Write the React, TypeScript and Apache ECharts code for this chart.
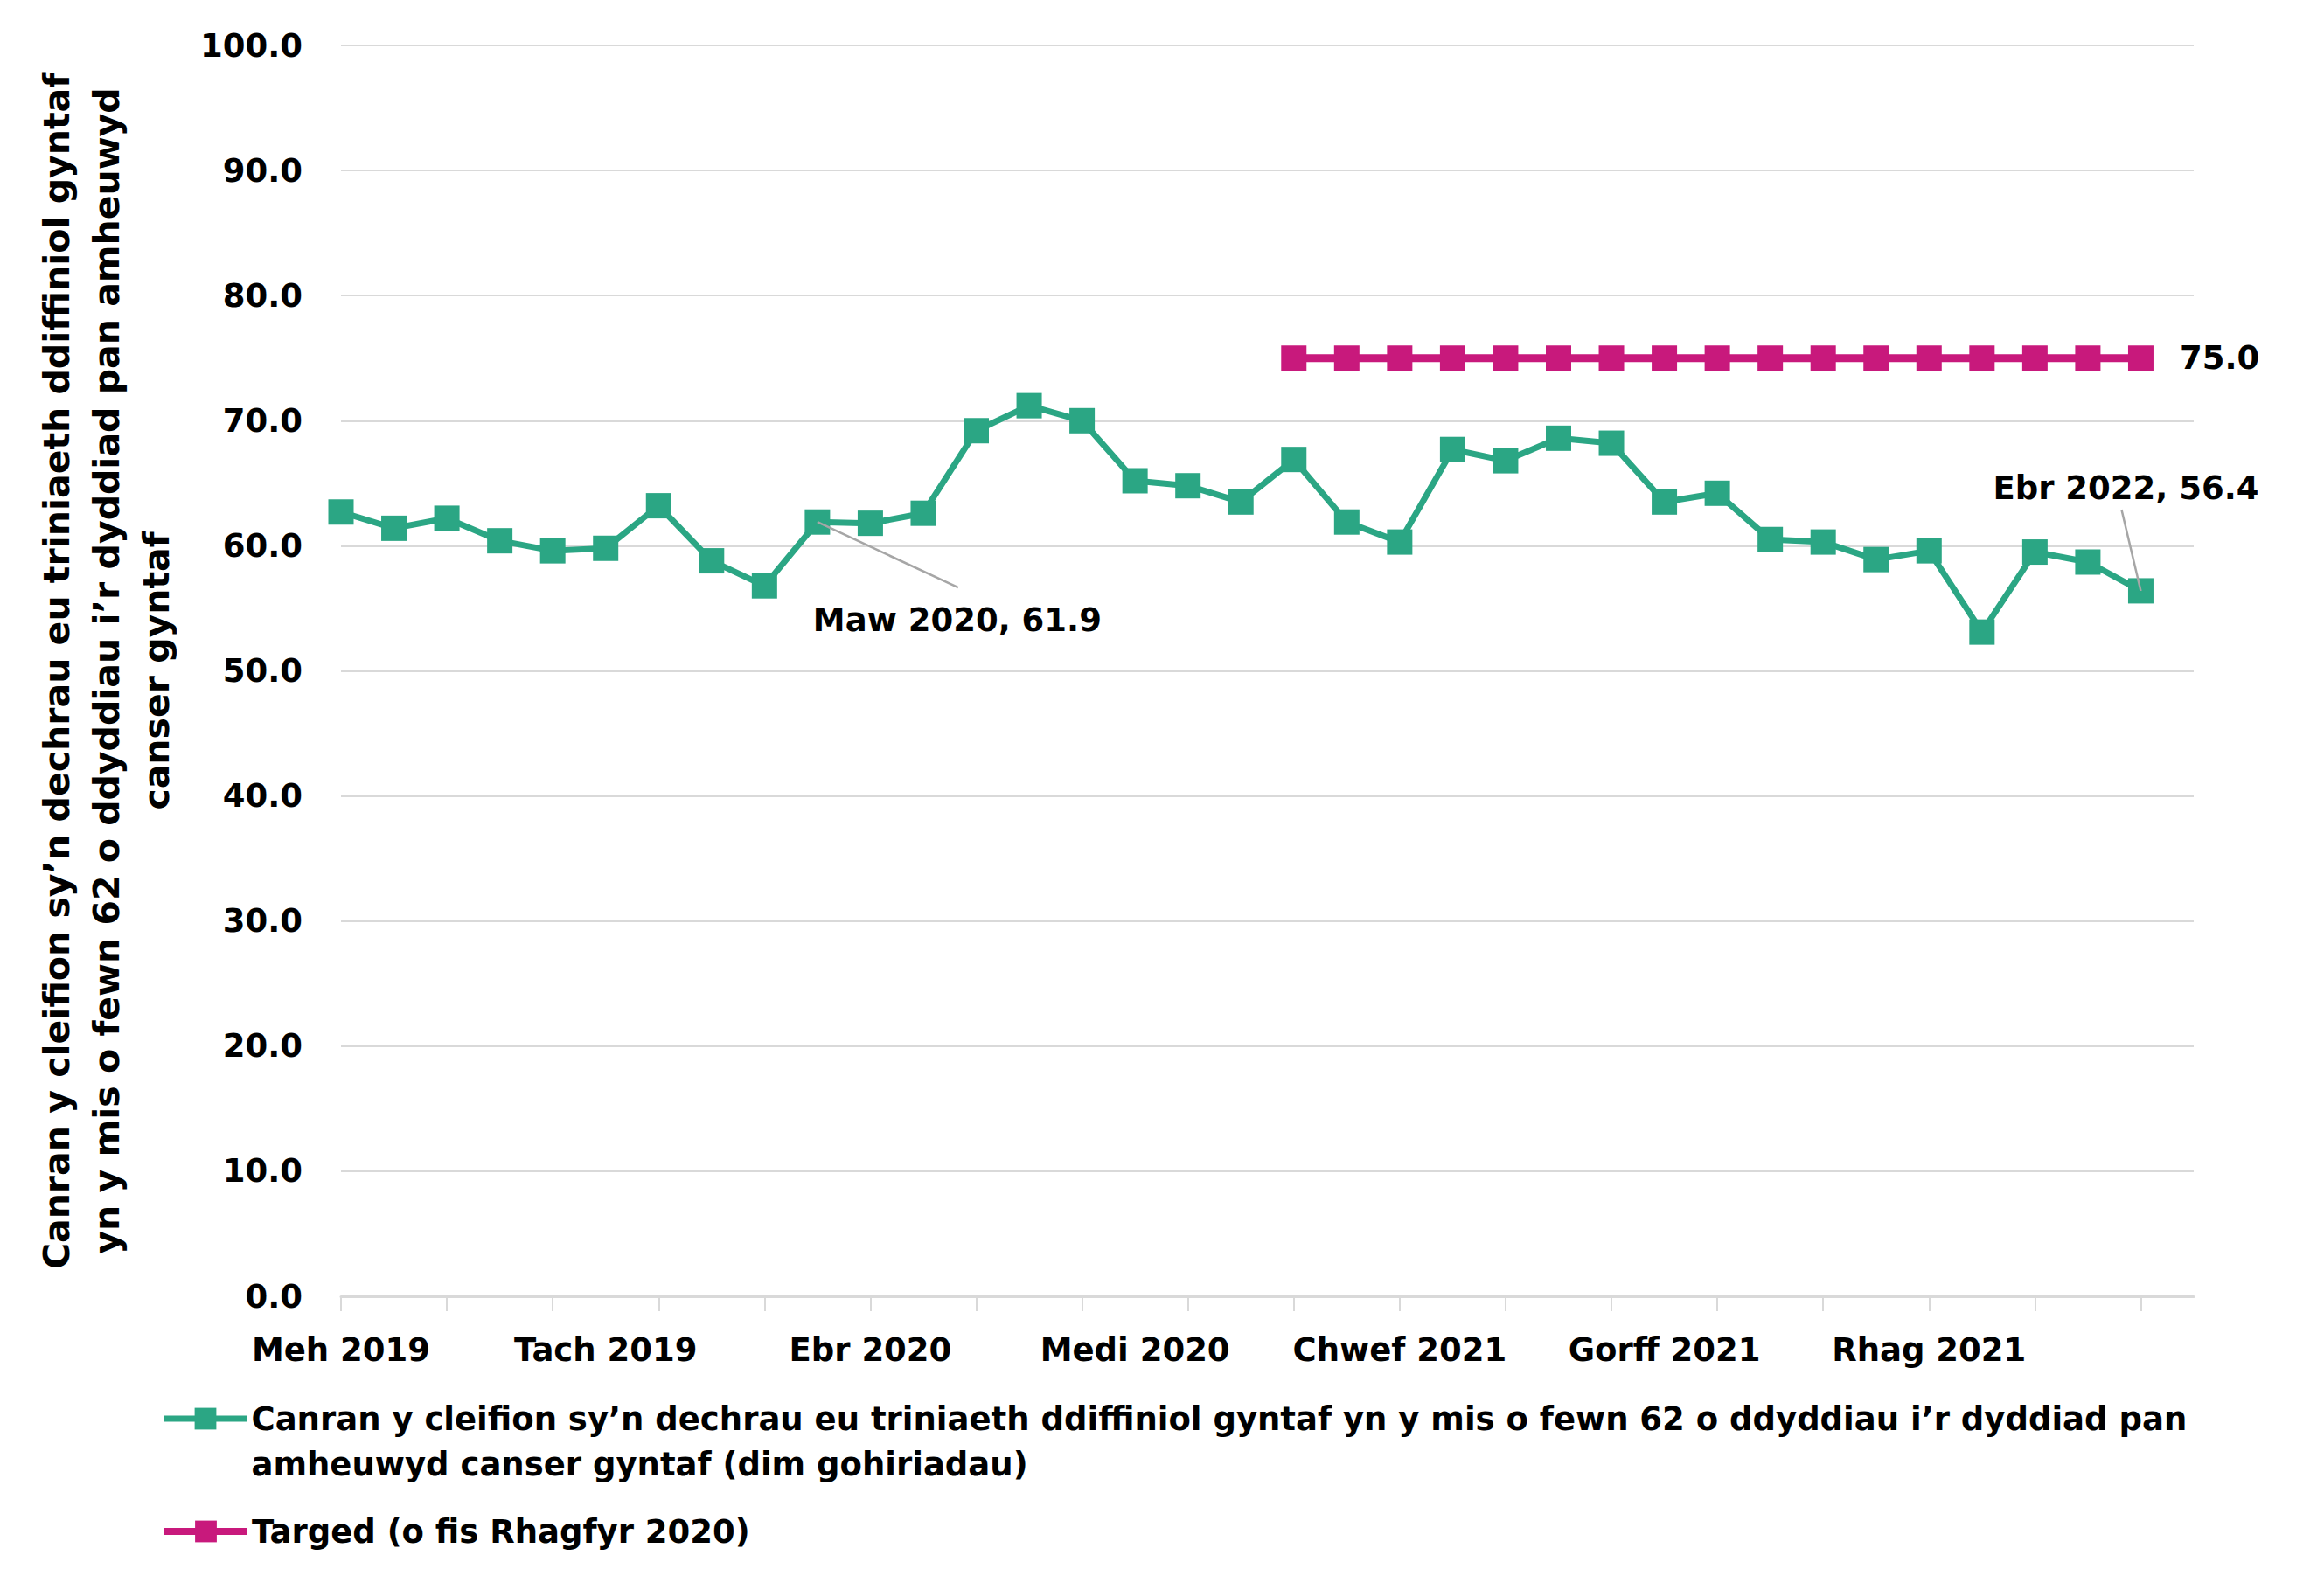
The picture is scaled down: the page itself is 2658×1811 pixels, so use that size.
import React, { useEffect, useRef } from "react";
import * as echarts from "echarts";

const months = [
  "Meh 2019", "Gorff 2019", "Awst 2019", "Medi 2019", "Hyd 2019", "Tach 2019", "Rhag 2019",
  "Ion 2020", "Chwef 2020", "Maw 2020", "Ebr 2020", "Mai 2020", "Meh 2020", "Gorff 2020",
  "Awst 2020", "Medi 2020", "Hyd 2020", "Tach 2020", "Rhag 2020", "Ion 2021", "Chwef 2021",
  "Maw 2021", "Ebr 2021", "Mai 2021", "Meh 2021", "Gorff 2021", "Awst 2021", "Medi 2021",
  "Hyd 2021", "Tach 2021", "Rhag 2021", "Ion 2022", "Chwef 2022", "Maw 2022", "Ebr 2022",
  "Mai 2022",
];

const performance = [
  62.7, 61.4, 62.2, 60.4, 59.6, 59.8, 63.2, 58.8, 56.8, 61.9, 61.8, 62.6,
  69.2, 71.2, 70.0, 65.2, 64.8, 63.5, 66.9, 61.9, 60.3, 67.7, 66.8, 68.6,
  68.2, 63.5, 64.2, 60.5, 60.3, 58.9, 59.6, 53.1, 59.5, 58.7, 56.4, null,
];

const target = [
  null, null, null, null, null, null, null, null, null, null, null, null,
  null, null, null, null, null, null, 75, 75, 75, 75, 75, 75,
  75, 75, 75, 75, 75, 75, 75, 75, 75, 75, 75, null,
];

const annotatedIdx = [9, 34];

const seriesNames = [
  "Canran y cleifion sy’n dechrau eu triniaeth ddiffiniol gyntaf yn y mis o fewn 62 o ddyddiau i’r dyddiad pan amheuwyd canser gyntaf (dim gohiriadau)",
  "Targed (o fis Rhagfyr 2020)",
];
const legendLines = [
  "Canran y cleifion sy’n dechrau eu triniaeth ddiffiniol gyntaf yn y mis o fewn 62 o ddyddiau i’r dyddiad pan\namheuwyd canser gyntaf (dim gohiriadau)",
  "Targed (o fis Rhagfyr 2020)",
];
const yAxisTitle =
  "Canran y cleifion sy’n dechrau eu triniaeth ddiffiniol gyntaf\nyn y mis o fewn 62 o ddyddiau i’r dyddiad pan amheuwyd\ncanser gyntaf";

const GREEN = "#2BA684";
const MAGENTA = "#C8197C";
const GRID = "#D9D9D9";
const LEADER = "#A6A6A6";
const FONT = "DejaVu Sans";
const FS = 37;

// label offsets (pixels) and leader-line end offsets (pixels) for annotated points
const LABEL_SHIFT: Record<number, [number, number]> = { 9: [160, 112], 34: [-17, -117] };
const LEADER_END: Record<number, [number, number]> = { 9: [161, 75], 34: [-22, -93] };

export default function App() {
  const ref = useRef<HTMLDivElement>(null);

  useEffect(() => {
    if (!ref.current) return;
    const chart = echarts.init(ref.current, undefined, { renderer: "svg" });
    const txt = { fontFamily: FONT, fontWeight: "bold" as const, fontSize: FS, color: "#000" };

    const perfData = performance.map((v, i) =>
      annotatedIdx.includes(i) && v != null
        ? {
            value: v,
            label: {
              show: true,
              position: "inside",
              formatter: (p: any) => `${months[p.dataIndex]}, ${Number(p.value).toFixed(1)}`,
              ...txt,
            },
          }
        : v
    );
    const lastTarget = target.reduce((acc: number, v, i) => (v != null ? i : acc), -1);
    const targetData = target.map((v, i) =>
      i === lastTarget
        ? {
            value: v,
            label: {
              show: true,
              position: "right",
              distance: 30,
              formatter: (p: any) => Number(p.value).toFixed(1),
              ...txt,
            },
          }
        : v
    );
    const leaderData = annotatedIdx.map((i) => [i, performance[i]]);

    chart.setOption({
      animation: false,
      backgroundColor: "#fff",
      grid: { left: 390, right: 149, top: 52, bottom: 328, containLabel: false },
      xAxis: {
        type: "category",
        data: months,
        boundaryGap: false,
        axisLine: { show: true, lineStyle: { color: GRID, width: 3 } },
        axisTick: { show: true, interval: 1, length: 17, lineStyle: { color: GRID, width: 2 } },
        axisLabel: {
          interval: (idx: number) => idx % 5 === 0 && idx < 35,
          margin: 43,
          ...txt,
        },
        splitLine: { show: false },
      },
      yAxis: {
        type: "value",
        min: 0,
        max: 100,
        interval: 10,
        name: yAxisTitle,
        nameLocation: "middle",
        nameRotate: 90,
        nameGap: 183,
        nameTextStyle: { ...txt, fontSize: 41, lineHeight: 57, align: "center" },
        axisLine: { show: false },
        axisTick: { show: false },
        axisLabel: { margin: 44, formatter: (v: number) => v.toFixed(1), ...txt },
        splitLine: { show: true, lineStyle: { color: GRID, width: 2 } },
      },
      legend: [
        {
          data: [seriesNames[0]],
          orient: "vertical",
          left: 184,
          top: 1545,
          padding: 0,
          itemWidth: 95,
          itemHeight: 31,
          lineStyle: { width: 7 },
          formatter: () => "\u00a0\n" + legendLines[0],
          textStyle: { ...txt, lineHeight: 52 },
        },
        {
          data: [seriesNames[1]],
          orient: "vertical",
          left: 184,
          top: 1726,
          padding: 0,
          itemWidth: 95,
          itemHeight: 31,
          lineStyle: { width: 8 },
          formatter: () => legendLines[1],
          textStyle: { ...txt, lineHeight: 52 },
        },
      ],
      series: [
        {
          name: seriesNames[0],
          type: "line",
          data: perfData,
          symbol: "rect",
          symbolSize: 29,
          lineStyle: { color: GREEN, width: 7 },
          itemStyle: { color: GREEN },
          label: { show: false },
          labelLayout: (p: any) => {
            const s = LABEL_SHIFT[p.dataIndex];
            return s ? { dx: s[0], dy: s[1] } : {};
          },
          z: 3,
        },
        {
          name: seriesNames[1],
          type: "line",
          data: targetData,
          symbol: "rect",
          symbolSize: 29,
          lineStyle: { color: MAGENTA, width: 9 },
          itemStyle: { color: MAGENTA },
          label: { show: false },
          z: 2,
        },
        {
          name: "leaders",
          type: "custom",
          data: leaderData,
          encode: { x: 0, y: 1 },
          silent: true,
          z: 5,
          renderItem: (params: any, api: any) => {
            const p = api.coord([api.value(0), api.value(1)]);
            const idx = annotatedIdx[params.dataIndex];
            const off = LEADER_END[idx] || [0, 0];
            return {
              type: "line",
              shape: { x1: p[0], y1: p[1], x2: p[0] + off[0], y2: p[1] + off[1] },
              style: { stroke: LEADER, lineWidth: 2.5 },
            };
          },
        },
      ],
    });

    return () => chart.dispose();
  }, []);

  return (
    <div
      ref={ref}
      style={{ position: "absolute", left: 0, top: 0, width: 2658, height: 1811, background: "#fff" }}
    />
  );
}
